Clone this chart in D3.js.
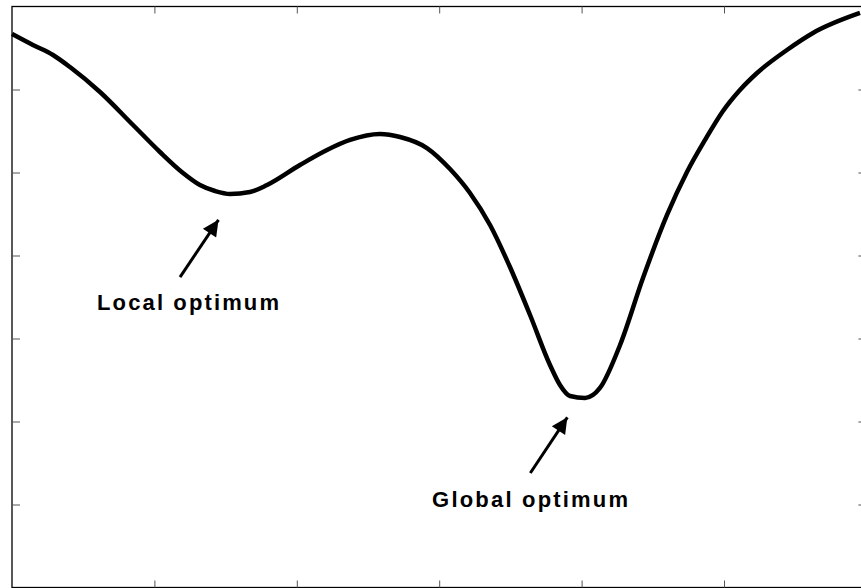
<!DOCTYPE html>
<html>
<head>
<meta charset="utf-8">
<script src="https://cdn.jsdelivr.net/npm/d3@7"></script>
<style>
  html, body { margin: 0; padding: 0; background: #fff; }
  svg { display: block; }
</style>
</head>
<body>
<svg id="chart" width="861" height="588"></svg>
<script>
// ---- data ----
const xValues = [0.000, 0.147, 0.288, 0.407, 0.618, 0.850, 1.039, 1.201, 1.320, 1.426, 1.531, 1.671, 1.791, 2.022, 2.212, 2.374, 2.584, 2.725, 2.914, 3.076, 3.216, 3.357, 3.497, 3.638, 3.778, 3.848, 3.919, 4.024, 4.129, 4.270, 4.431, 4.600, 4.740, 4.867, 4.993, 5.112, 5.232, 5.442, 5.625, 5.955];
const yValues = [6.669, 6.536, 6.416, 6.271, 5.970, 5.572, 5.247, 4.994, 4.849, 4.777, 4.741, 4.765, 4.849, 5.090, 5.271, 5.392, 5.464, 5.428, 5.295, 5.042, 4.753, 4.367, 3.861, 3.283, 2.681, 2.440, 2.307, 2.283, 2.404, 2.922, 3.729, 4.488, 5.006, 5.392, 5.741, 5.994, 6.199, 6.476, 6.681, 6.922];
const xTicks = [1, 2, 3, 4, 5];
const yTicks = [1, 2, 3, 4, 5, 6];
const labels = ["Local optimum", "Global optimum"];
// arrow tail -> tip in data units
const arrowTail = [[1.18, 3.74], [3.64, 1.38]];
const arrowTip  = [[1.45, 4.43], [3.90, 2.05]];
const labelPos  = [[0.597, 3.34], [2.95, 0.97]];
const labelWidth = [[0.0, 1.278], [0.0, 1.376]];

// ---- layout ----
const svg = d3.select("#chart");
const x = d3.scaleLinear().domain([0, 6]).range([12, 866.4]);
const y = d3.scaleLinear().domain([0, 7]).range([587.5, 6.5]);

// frame
svg.append("rect")
  .attr("x", x(0)).attr("y", y(7))
  .attr("width", x(6) - x(0)).attr("height", y(0) - y(7))
  .attr("fill", "none").attr("stroke", "#000").attr("stroke-width", 1.3);

function styleAxis(g) {
  g.select(".domain").remove();
  g.selectAll(".tick text").remove();
  g.selectAll(".tick line").attr("stroke", "#555").attr("stroke-width", 1);
}
svg.append("g").attr("transform", `translate(${x(0)},0)`)
  .call(d3.axisLeft(y).tickValues(yTicks).tickSize(-8).tickFormat(""))
  .call(styleAxis);
svg.append("g").attr("transform", `translate(${x(6)},0)`)
  .call(d3.axisRight(y).tickValues(yTicks).tickSize(-8).tickFormat(""))
  .call(styleAxis);
svg.append("g").attr("transform", `translate(0,${y(0)})`)
  .call(d3.axisBottom(x).tickValues(xTicks).tickSize(-7).tickFormat(""))
  .call(styleAxis);
svg.append("g").attr("transform", `translate(0,${y(7)})`)
  .call(d3.axisTop(x).tickValues(xTicks).tickSize(-7).tickFormat(""))
  .call(styleAxis);

// curve
const pts = xValues.map((v, i) => [v, yValues[i]]);
svg.append("path")
  .datum(pts)
  .attr("fill", "none")
  .attr("stroke", "#000")
  .attr("stroke-width", 4.5)
  .attr("stroke-linejoin", "round")
  .attr("d", d3.line().x(d => x(d[0])).y(d => y(d[1])).curve(d3.curveMonotoneX));

// arrows
svg.append("defs").append("marker")
  .attr("id", "head")
  .attr("viewBox", "0 0 10 10")
  .attr("refX", 10).attr("refY", 5)
  .attr("markerUnits", "userSpaceOnUse")
  .attr("markerWidth", 20).attr("markerHeight", 16)
  .attr("orient", "auto")
  .append("path").attr("d", "M0,0 L10,5 L0,10 Z").attr("fill", "#000");

arrowTail.forEach((t, i) => {
  svg.append("line")
    .attr("x1", x(t[0])).attr("y1", y(t[1]))
    .attr("x2", x(arrowTip[i][0])).attr("y2", y(arrowTip[i][1]))
    .attr("stroke", "#000").attr("stroke-width", 3)
    .attr("marker-end", "url(#head)");
});

// labels
labels.forEach((txt, i) => {
  svg.append("text")
    .attr("x", x(labelPos[i][0])).attr("y", y(labelPos[i][1]))
    .attr("font-family", "Liberation Sans, Arial, sans-serif")
    .attr("font-weight", "bold")
    .attr("font-size", 22)
    .attr("textLength", x(labelWidth[i][1]) - x(labelWidth[i][0]))
    .attr("lengthAdjust", "spacing")
    .attr("fill", "#000")
    .text(txt);
});
</script>
</body>
</html>
